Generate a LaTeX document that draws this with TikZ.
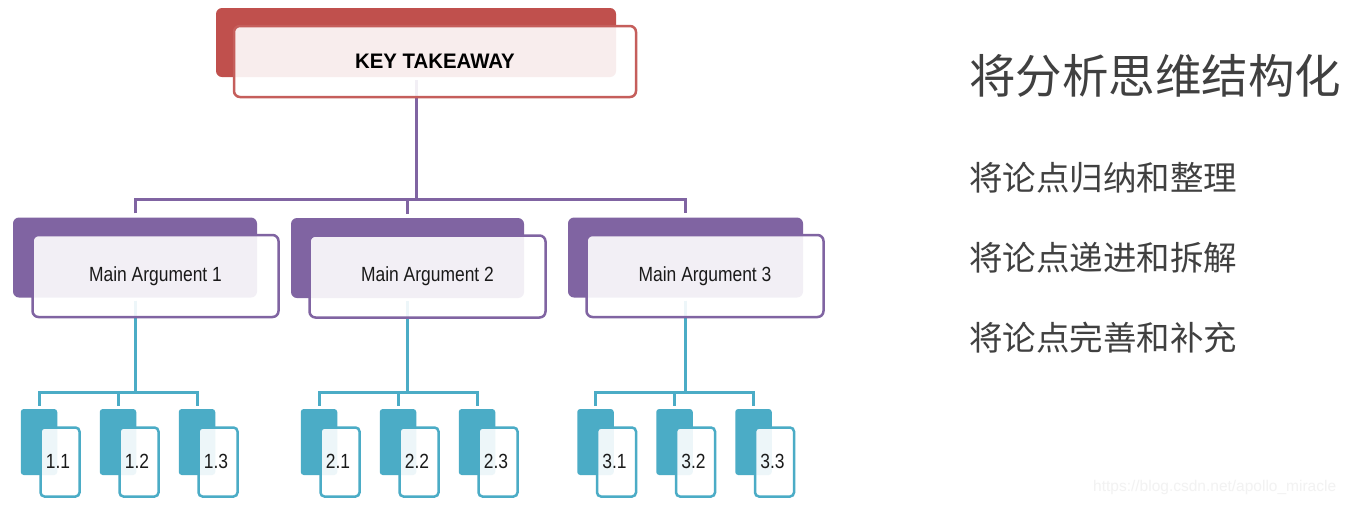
\documentclass[tikz,border=0pt]{standalone}
\usepackage{fontspec}
\setmainfont{Liberation Sans}
\newfontfamily\cjk{Noto Sans CJK SC}
\newfontfamily\narrowsans[FakeStretch=0.85]{Liberation Sans}
\newfontfamily\keysans[FakeStretch=0.97]{Liberation Sans}
\definecolor{kred}{HTML}{C0504D}
\definecolor{mpurple}{HTML}{8064A2}
\definecolor{laqua}{HTML}{4BACC6}
\definecolor{txtgray}{HTML}{404040}
\definecolor{txtdark}{HTML}{1A1A1A}
\tikzset{
  keyback/.style={rectangle, rounded corners=6pt, fill=kred, inner sep=0pt,
    minimum width=400pt, minimum height=69pt},
  keyfront/.style={rectangle, rounded corners=6pt, draw=kred!92!white, line width=2.5pt,
    fill=white, fill opacity=0.9, draw opacity=1, text opacity=1, inner sep=0pt,
    minimum width=402pt, minimum height=71pt, text=black,
    font=\keysans\bfseries\fontsize{21}{25}\selectfont},
  maback/.style={rectangle, rounded corners=6pt, fill=mpurple, inner sep=0pt,
    minimum height=80pt},
  mafront/.style={rectangle, rounded corners=6pt, draw=mpurple, line width=2.5pt,
    fill=white, fill opacity=0.9, draw opacity=1, text opacity=1, inner sep=0pt,
    minimum height=82pt, text=txtdark,
    font=\narrowsans\fontsize{20.5}{24}\selectfont},
  leafback/.style={rectangle, rounded corners=3pt, fill=laqua, inner sep=0pt,
    minimum width=36.5pt, minimum height=66pt},
  leaffront/.style={rectangle, rounded corners=4pt, draw=laqua, line width=2.5pt,
    fill=white, fill opacity=0.9, draw opacity=1, text opacity=1, inner sep=0pt,
    minimum width=39pt, minimum height=69pt, text=txtdark,
    font=\narrowsans\fontsize{20.5}{24}\selectfont},
  pconn/.style={draw=mpurple, line width=3pt},
  tconn/.style={draw=laqua, line width=3pt},
  cjktitle/.style={anchor=base west, inner sep=0pt, text=txtgray,
    font=\cjk\fontsize{46.5}{50}\selectfont},
  cjkline/.style={anchor=base west, inner sep=0pt, text=txtgray,
    font=\cjk\fontsize{33.5}{38}\selectfont},
  wmark/.style={anchor=base west, inner sep=0pt, text=black!5,
    font=\fontsize{15.5}{18}\selectfont}
}
\begin{document}
\begin{tikzpicture}[x=1pt, y=-1pt]
\useasboundingbox (0,0) rectangle (1352,504);
\fill[white] (0,0) rectangle (1352,504);

% back boxes
\node[keyback] (kb) at (416,42.5) {};
\node[maback, minimum width=244pt] (mb1) at (135,257.5) {};
\node[maback, minimum width=233pt] (mb2) at (407.5,258) {};
\node[maback, minimum width=235pt] (mb3) at (685.5,257.5) {};
\foreach \g/\fx in {1/39, 2/319, 3/595.5} {
  \foreach \i in {1,2,3} {
    \pgfmathsetmacro\cx{\fx+79*(\i-1)}
    \node[leafback] (lb\g\i) at (\cx,442) {};
  }
}

% connectors: key -> main arguments
\coordinate (tophub) at (kb.south |- 0,199);
\draw[pconn] ([yshift=-3pt]kb.south) -- (tophub);
\draw[pconn] ([yshift=4pt]mb1.north) |- (tophub) -| ([yshift=4pt]mb3.north);
\draw[pconn] ([yshift=4pt]mb2.north) -- (mb2.north |- tophub);

% connectors: main arguments -> leaves
\foreach \g in {1,2,3} {
  \coordinate (hub\g) at (mb\g.south |- 0,392);
  \draw[tconn] ([yshift=-3pt]mb\g.south) -- (hub\g);
  \draw[tconn] ([yshift=3pt]lb\g1.north) |- (hub\g) -| ([yshift=3pt]lb\g3.north);
  \draw[tconn] ([yshift=3pt]lb\g2.north) -- (lb\g2.north |- hub\g);
}

% front boxes
\node[keyfront] (kf) at (435,61.5) {KEY TAKEAWAY};
\node[mafront, minimum width=246pt] (mf1) at (155.5,276) {Main Argument 1};
\node[mafront, minimum width=236pt] (mf2) at (427.5,276.5) {Main Argument 2};
\node[mafront, minimum width=237pt] (mf3) at (705,276) {Main Argument 3};
\foreach \g/\fx in {1/39, 2/319, 3/595.5} {
  \foreach \i in {1,2,3} {
    \pgfmathsetmacro\cx{\fx+79*(\i-1)+21}
    \node[leaffront] (lf\g\i) at (\cx,462) {\hspace*{-4pt}\raisebox{2pt}{\g.\i}};
  }
}

% right-hand text
\node[cjktitle] (title) at (969,93) {将分析思维结构化};
\node[cjkline] (p1) at (969,190) {将论点归纳和整理};
\node[cjkline] (p2) at (969,270) {将论点递进和拆解};
\node[cjkline] (p3) at (969,350) {将论点完善和补充};

% watermark
\node[wmark] (wm) at (1093,491) {https://blog.csdn.net/apollo\_miracle};
\end{tikzpicture}
\end{document}
